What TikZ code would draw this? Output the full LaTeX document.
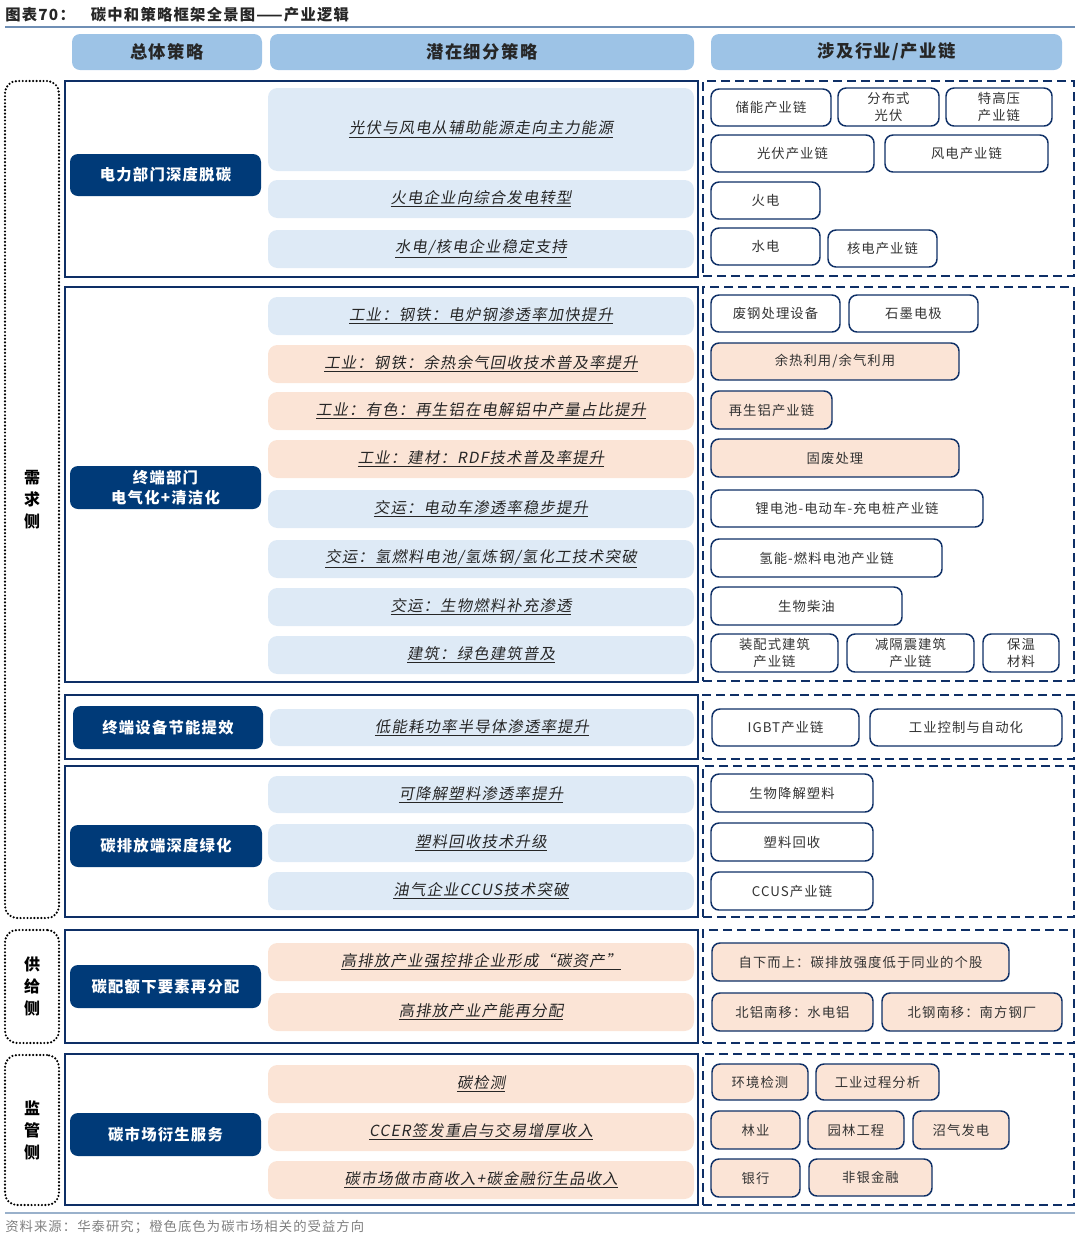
\documentclass[tikz,border=0pt]{standalone}
\usepackage{fontspec}
\setmainfont{Noto Sans CJK SC}[LetterSpace=8]
\newfontfamily\slantcjk[FakeSlant=0.18, LetterSpace=8]{Noto Sans CJK SC}
\definecolor{navy}{HTML}{0E2F66}
\definecolor{darkfill}{HTML}{003A78}
\definecolor{hdrblue}{HTML}{9DC3E6}
\definecolor{lblue}{HTML}{DEEAF6}
\definecolor{lorange}{HTML}{FBE4D6}
\definecolor{rulec}{HTML}{6F8FB5}
\definecolor{graytxt}{HTML}{808080}
\newcommand\mkbox[7]{\node[#2, anchor=north west, inner sep=0pt, outer sep=0pt, minimum width={(#5-#3)*0.75pt}, minimum height={(#6-#4)*0.75pt}] (#1) at (#3,#4) {#7};}
\tikzset{
 hdr/.style={fill=hdrblue, rounded corners=6pt, font=\fontsize{13}{15}\selectfont\bfseries, text=black!85},
 sec/.style={draw=navy, line width=1.2pt},
 dsh/.style={draw=navy, line width=2.2pt, dash pattern=on 6.5pt off 4pt},
 dotbox/.style={draw=black, line width=1.8pt, dash pattern=on 0pt off 2.6pt, line cap=round, rounded corners=9pt, align=center, font=\fontsize{12}{16.5}\selectfont\bfseries},
 dark/.style={fill=darkfill, rounded corners=6pt, text=white, align=center, font=\fontsize{11.5}{14.5}\selectfont\bfseries},
 midb/.style={fill=lblue, rounded corners=7pt, font=\slantcjk\fontsize{11.5}{14}\selectfont, text=black!85},
 mido/.style={midb, fill=lorange},
 rbox/.style={draw=navy, line width=1.1pt, rounded corners=6pt, fill=white, font=\fontsize{10}{12.5}\selectfont, text=black!80, align=center},
 robox/.style={rbox, fill=lorange},
}
\begin{document}
\begin{tikzpicture}[x=0.75pt, y=-0.75pt]
\useasboundingbox (0,0) rectangle (1080,1240);
% title
\node[anchor=west, inner sep=0pt, font=\fontsize{11.5}{14}\selectfont\bfseries, text=black!85] (title) at (5,15) {图表70：\hspace{12pt}碳中和策略框架全景图——产业逻辑};
\coordinate (tl1) at (5,27); \coordinate (tl2) at (1075,27);
\draw[rulec, line width=1.5pt] (tl1) -- (tl2);
% headers
\mkbox{h1}{hdr}{72}{34}{262}{70}{总体策略}
\mkbox{h2}{hdr}{270}{34}{694}{70}{潜在细分策略}
\mkbox{h3}{hdr}{711}{34}{1062}{70}{涉及行业/产业链}
% side labels
\mkbox{l1}{dotbox}{5}{81}{59}{918}{需\\求\\侧}
\mkbox{l2}{dotbox}{5}{930}{59}{1043}{供\\给\\侧}
\mkbox{l3}{dotbox}{5}{1055}{59}{1205}{监\\管\\侧}
% section frames
\mkbox{s1}{sec}{65}{81}{698}{277}{}
\mkbox{s2}{sec}{65}{287}{698}{682}{}
\mkbox{s3}{sec}{65}{695}{698}{759}{}
\mkbox{s4}{sec}{65}{766}{698}{917}{}
\mkbox{s5}{sec}{65}{930}{698}{1043}{}
\mkbox{s6}{sec}{65}{1054}{698}{1205}{}
\mkbox{d1}{dsh}{703}{81}{1074}{276}{}
\mkbox{d2}{dsh}{703}{287}{1074}{681}{}
\mkbox{d3}{dsh}{703}{695}{1074}{759}{}
\mkbox{d4}{dsh}{703}{766}{1074}{917}{}
\mkbox{d5}{dsh}{703}{930}{1074}{1043}{}
\mkbox{d6}{dsh}{703}{1054}{1074}{1205}{}
% dark boxes
\mkbox{k1}{dark}{70}{154}{261}{196}{电力部门深度脱碳}
\mkbox{k2}{dark}{70}{466}{261}{509}{终端部门\\电气化+清洁化}
\mkbox{k3}{dark}{73}{706}{263}{749}{终端设备节能提效}
\mkbox{k4}{dark}{70}{825}{262}{867}{碳排放端深度绿化}
\mkbox{k5}{dark}{70}{965}{261}{1008}{碳配额下要素再分配}
\mkbox{k6}{dark}{70}{1113}{261}{1156}{碳市场衍生服务}
% middle strategies
\mkbox{m11}{midb}{268}{88}{694}{171}{\underline{光伏与风电从辅助能源走向主力能源}}
\mkbox{m12}{midb}{268}{180}{694}{218}{\underline{火电企业向综合发电转型}}
\mkbox{m13}{midb}{268}{230}{694}{268}{\underline{水电/核电企业稳定支持}}
\mkbox{m21}{midb}{268}{297}{694}{335}{\underline{工业：钢铁：电炉钢渗透率加快提升}}
\mkbox{m22}{mido}{268}{345}{694}{383}{\underline{工业：钢铁：余热余气回收技术普及率提升}}
\mkbox{m23}{mido}{268}{392}{694}{430}{\underline{工业：有色：再生铝在电解铝中产量占比提升}}
\mkbox{m24}{mido}{268}{440}{694}{478}{\underline{工业：建材：RDF技术普及率提升}}
\mkbox{m25}{midb}{268}{490}{694}{528}{\underline{交运：电动车渗透率稳步提升}}
\mkbox{m26}{midb}{268}{540}{694}{578}{\underline{交运：氢燃料电池/氢炼钢/氢化工技术突破}}
\mkbox{m27}{midb}{268}{588}{694}{626}{\underline{交运：生物燃料补充渗透}}
\mkbox{m28}{midb}{268}{636}{694}{674}{\underline{建筑：绿色建筑普及}}
\mkbox{m31}{midb}{270}{709}{694}{746}{\underline{低能耗功率半导体渗透率提升}}
\mkbox{m41}{midb}{268}{776}{694}{813}{\underline{可降解塑料渗透率提升}}
\mkbox{m42}{midb}{268}{824}{694}{862}{\underline{塑料回收技术升级}}
\mkbox{m43}{midb}{268}{872}{694}{910}{\underline{油气企业CCUS技术突破}}
\mkbox{m51}{mido}{268}{943}{694}{981}{\underline{高排放产业强控排企业形成“碳资产”}}
\mkbox{m52}{mido}{268}{993}{694}{1031}{\underline{高排放产业产能再分配}}
\mkbox{m61}{mido}{268}{1065}{694}{1103}{\underline{碳检测}}
\mkbox{m62}{mido}{268}{1113}{694}{1151}{\underline{CCER签发重启与交易增厚收入}}
\mkbox{m63}{mido}{268}{1161}{694}{1199}{\underline{碳市场做市商收入+碳金融衍生品收入}}
% right industries
\mkbox{r11}{rbox}{711}{89}{831}{126}{储能产业链}
\mkbox{r12}{rbox}{838}{88}{939}{126}{分布式\\光伏}
\mkbox{r13}{rbox}{946}{88}{1052}{126}{特高压\\产业链}
\mkbox{r14}{rbox}{711}{135}{874}{172}{光伏产业链}
\mkbox{r15}{rbox}{885}{135}{1048}{172}{风电产业链}
\mkbox{r16}{rbox}{711}{182}{820}{219}{火电}
\mkbox{r17}{rbox}{711}{228}{820}{265}{水电}
\mkbox{r18}{rbox}{828}{230}{937}{267}{核电产业链}
\mkbox{r21}{rbox}{711}{295}{840}{332}{废钢处理设备}
\mkbox{r22}{rbox}{849}{295}{978}{332}{石墨电极}
\mkbox{r23}{robox}{711}{343}{959}{380}{余热利用/余气利用}
\mkbox{r24}{robox}{711}{391}{832}{429}{再生铝产业链}
\mkbox{r25}{robox}{711}{439}{959}{477}{固废处理}
\mkbox{r26}{rbox}{711}{490}{983}{527}{锂电池-电动车-充电桩产业链}
\mkbox{r27}{rbox}{711}{539}{942}{577}{氢能-燃料电池产业链}
\mkbox{r28}{rbox}{711}{587}{902}{625}{生物柴油}
\mkbox{r29}{rbox}{711}{634}{838}{672}{装配式建筑\\产业链}
\mkbox{r210}{rbox}{847}{634}{974}{672}{减隔震建筑\\产业链}
\mkbox{r211}{rbox}{983}{634}{1059}{672}{保温\\材料}
\mkbox{r31}{rbox}{712}{709}{859}{746}{IGBT产业链}
\mkbox{r32}{rbox}{870}{709}{1062}{746}{工业控制与自动化}
\mkbox{r41}{rbox}{711}{774}{873}{812}{生物降解塑料}
\mkbox{r42}{rbox}{711}{823}{873}{861}{塑料回收}
\mkbox{r43}{rbox}{711}{872}{873}{910}{CCUS产业链}
\mkbox{r51}{robox}{712}{943}{1009}{981}{自下而上：碳排放强度低于同业的个股}
\mkbox{r52}{robox}{712}{993}{873}{1031}{北铝南移：水电铝}
\mkbox{r53}{robox}{882}{993}{1062}{1031}{北钢南移：南方钢厂}
\mkbox{r61}{robox}{712}{1064}{808}{1100}{环境检测}
\mkbox{r62}{robox}{816}{1064}{939}{1100}{工业过程分析}
\mkbox{r63}{robox}{711}{1111}{800}{1149}{林业}
\mkbox{r64}{robox}{808}{1111}{904}{1149}{园林工程}
\mkbox{r65}{robox}{913}{1111}{1009}{1149}{沼气发电}
\mkbox{r66}{robox}{711}{1159}{800}{1197}{银行}
\mkbox{r67}{robox}{809}{1159}{932}{1196}{非银金融}
% footer
\coordinate (bl1) at (5,1213); \coordinate (bl2) at (1075,1213);
\draw[rulec!70, line width=1.5pt] (bl1) -- (bl2);
\node[anchor=west, inner sep=0pt, font=\fontsize{10}{12}\selectfont, text=graytxt] (src) at (5,1227) {资料来源：华泰研究；橙色底色为碳市场相关的受益方向};
\end{tikzpicture}
\end{document}
